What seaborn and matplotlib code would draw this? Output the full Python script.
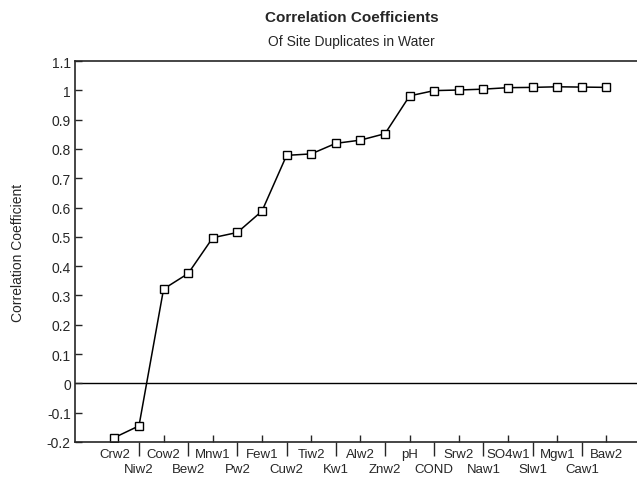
import matplotlib
matplotlib.use('Agg')
import matplotlib.pyplot as plt
import numpy as np
import pandas as pd
import seaborn as sns

sites = ['Crw2', 'Niw2', 'Cow2', 'Bew2', 'Mnw1', 'Pw2', 'Few1', 'Cuw2', 'Tiw2', 'Kw1',
         'Alw2', 'Znw2', 'pH', 'COND', 'Srw2', 'Naw1', 'SO4w1', 'Slw1', 'Mgw1', 'Caw1', 'Baw2']
coef = [-0.185, -0.145, 0.322, 0.375, 0.497, 0.515, 0.588, 0.778, 0.783, 0.819,
        0.830, 0.852, 0.981, 0.999, 1.001, 1.004, 1.009, 1.010, 1.012, 1.011, 1.010]
yticks = [-0.2, -0.1, 0, 0.1, 0.2, 0.3, 0.4, 0.5, 0.6, 0.7, 0.8, 0.9, 1, 1.1]
ytick_labels = ['-0.2', '-0.1', '0', '0.1', '0.2', '0.3', '0.4', '0.5', '0.6', '0.7',
                '0.8', '0.9', '1', '1.1']

sns.set_style('ticks')
plt.rcParams['font.family'] = ['Liberation Sans', 'DejaVu Sans']

df = pd.DataFrame({'idx': np.arange(len(sites)), 'coef': coef})

fig = plt.figure(figsize=(6.37, 4.85), dpi=100)
ax = fig.add_axes([75/637, 42/485, 1 - 75/637 + 0.01, 381/485])

sns.lineplot(data=df, x='idx', y='coef', ax=ax, color='black', linewidth=1.1,
             marker='s', markersize=6, markerfacecolor='white',
             markeredgecolor='black', markeredgewidth=1.0)
ax.axhline(0, color='black', linewidth=1.0, zorder=0)

ax.set_xlim(-1.6, 21.5)
ax.set_ylim(-0.2, 1.1)
ax.set_yticks(yticks, labels=ytick_labels)
ax.tick_params(axis='y', direction='in', length=5, width=1, labelsize=10, pad=3)

# alternate labels on two rows: upper row with inward ticks, lower row with long outward ticks
even = list(range(0, len(sites), 2))
odd = list(range(1, len(sites), 2))
ax.set_xticks(even, labels=[sites[i] for i in even])
ax.set_xticks(odd, labels=[sites[i] for i in odd], minor=True)
ax.tick_params(axis='x', which='major', direction='in', length=5, width=1,
               labelsize=9.5, pad=4)
ax.tick_params(axis='x', which='minor', direction='out', length=10, width=1,
               labelsize=9.5, pad=5)

ax.spines['right'].set_visible(False)
for s in ['left', 'top', 'bottom']:
    ax.spines[s].set_linewidth(1.2)

ax.set_xlabel('')
ax.set_ylabel('Correlation Coefficient', fontsize=10, labelpad=16)

fig.text(0.552, 0.962, 'Correlation Coefficients', ha='center', va='center',
         fontsize=11, fontweight='bold')
fig.text(0.552, 0.913, 'Of Site Duplicates in Water', ha='center', va='center',
         fontsize=10)

fig.savefig('out.png', dpi=100)
